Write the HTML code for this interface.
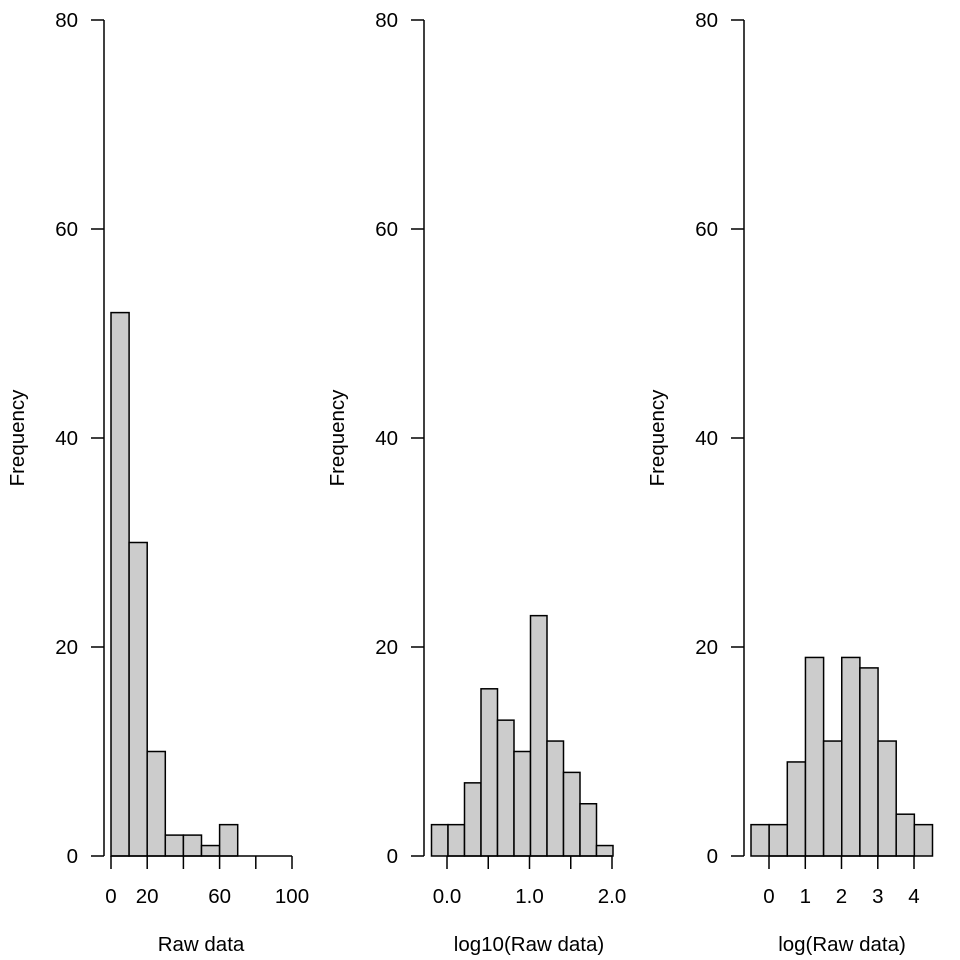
<!DOCTYPE html>
<html><head><style>html,body{margin:0;padding:0;background:#fff}svg{display:block}</style></head><body>
<svg width="960" height="960" xmlns="http://www.w3.org/2000/svg" font-family="Liberation Sans, Arial, sans-serif" font-size="20.5" fill="#000">
<g stroke="#000" stroke-width="1.5" fill="#cccccc">
<rect x="111" y="312.6" width="18.1" height="543.4"/>
<rect x="129.1" y="542.5" width="18.1" height="313.5"/>
<rect x="147.2" y="751.5" width="18.1" height="104.5"/>
<rect x="165.3" y="835.1" width="18.1" height="20.9"/>
<rect x="183.4" y="835.1" width="18.1" height="20.9"/>
<rect x="201.5" y="845.55" width="18.1" height="10.45"/>
<rect x="219.6" y="824.65" width="18.1" height="31.35"/>
<rect x="431.5" y="824.65" width="16.5" height="31.35"/>
<rect x="448" y="824.65" width="16.5" height="31.35"/>
<rect x="464.5" y="782.85" width="16.5" height="73.15"/>
<rect x="481" y="688.8" width="16.5" height="167.2"/>
<rect x="497.5" y="720.15" width="16.5" height="135.85"/>
<rect x="514" y="751.5" width="16.5" height="104.5"/>
<rect x="530.5" y="615.65" width="16.5" height="240.35"/>
<rect x="547" y="741.05" width="16.5" height="114.95"/>
<rect x="563.5" y="772.4" width="16.5" height="83.6"/>
<rect x="580" y="803.75" width="16.5" height="52.25"/>
<rect x="596.5" y="845.55" width="16.5" height="10.45"/>
<rect x="751" y="824.65" width="18.15" height="31.35"/>
<rect x="769.15" y="824.65" width="18.15" height="31.35"/>
<rect x="787.3" y="761.95" width="18.15" height="94.05"/>
<rect x="805.45" y="657.45" width="18.15" height="198.55"/>
<rect x="823.6" y="741.05" width="18.15" height="114.95"/>
<rect x="841.75" y="657.45" width="18.15" height="198.55"/>
<rect x="859.9" y="667.9" width="18.15" height="188.1"/>
<rect x="878.05" y="741.05" width="18.15" height="114.95"/>
<rect x="896.2" y="814.2" width="18.15" height="41.8"/>
<rect x="914.35" y="824.65" width="18.15" height="31.35"/>
</g>
<g stroke="#000" stroke-width="1.5" fill="none">
<path d="M104 20V856M91 20H104M91 229H104M91 438H104M91 647H104M91 856H104"/>
<path d="M424 20V856M411 20H424M411 229H424M411 438H424M411 647H424M411 856H424"/>
<path d="M744 20V856M731 20H744M731 229H744M731 438H744M731 647H744M731 856H744"/>
<path d="M111 856H292M111 856V869M147.2 856V869M183.4 856V869M219.6 856V869M255.8 856V869M292 856V869"/>
<path d="M447 856H612M447 856V869M488.25 856V869M529.5 856V869M570.75 856V869M612 856V869"/>
<path d="M769 856H914M769 856V869M805.3 856V869M841.5 856V869M877.8 856V869M914 856V869"/>
</g>
<g text-anchor="end">
<text x="78" y="27">80</text><text x="78" y="236">60</text><text x="78" y="445">40</text><text x="78" y="654">20</text><text x="78" y="863">0</text>
<text x="398" y="27">80</text><text x="398" y="236">60</text><text x="398" y="445">40</text><text x="398" y="654">20</text><text x="398" y="863">0</text>
<text x="718" y="27">80</text><text x="718" y="236">60</text><text x="718" y="445">40</text><text x="718" y="654">20</text><text x="718" y="863">0</text>
</g>
<g text-anchor="middle">
<text x="111" y="903">0</text><text x="147.2" y="903">20</text><text x="219.6" y="903">60</text><text x="292" y="903">100</text>
<text x="447" y="903">0.0</text><text x="529.5" y="903">1.0</text><text x="612" y="903">2.0</text>
<text x="769" y="903">0</text><text x="805.3" y="903">1</text><text x="841.5" y="903">2</text><text x="877.8" y="903">3</text><text x="914" y="903">4</text>
<text x="201" y="951">Raw data</text>
<text x="529" y="951">log10(Raw data)</text>
<text x="842" y="951">log(Raw data)</text>
<text transform="translate(24,438) rotate(-90)">Frequency</text>
<text transform="translate(344,438) rotate(-90)">Frequency</text>
<text transform="translate(664,438) rotate(-90)">Frequency</text>
</g>
</svg>
</body></html>
